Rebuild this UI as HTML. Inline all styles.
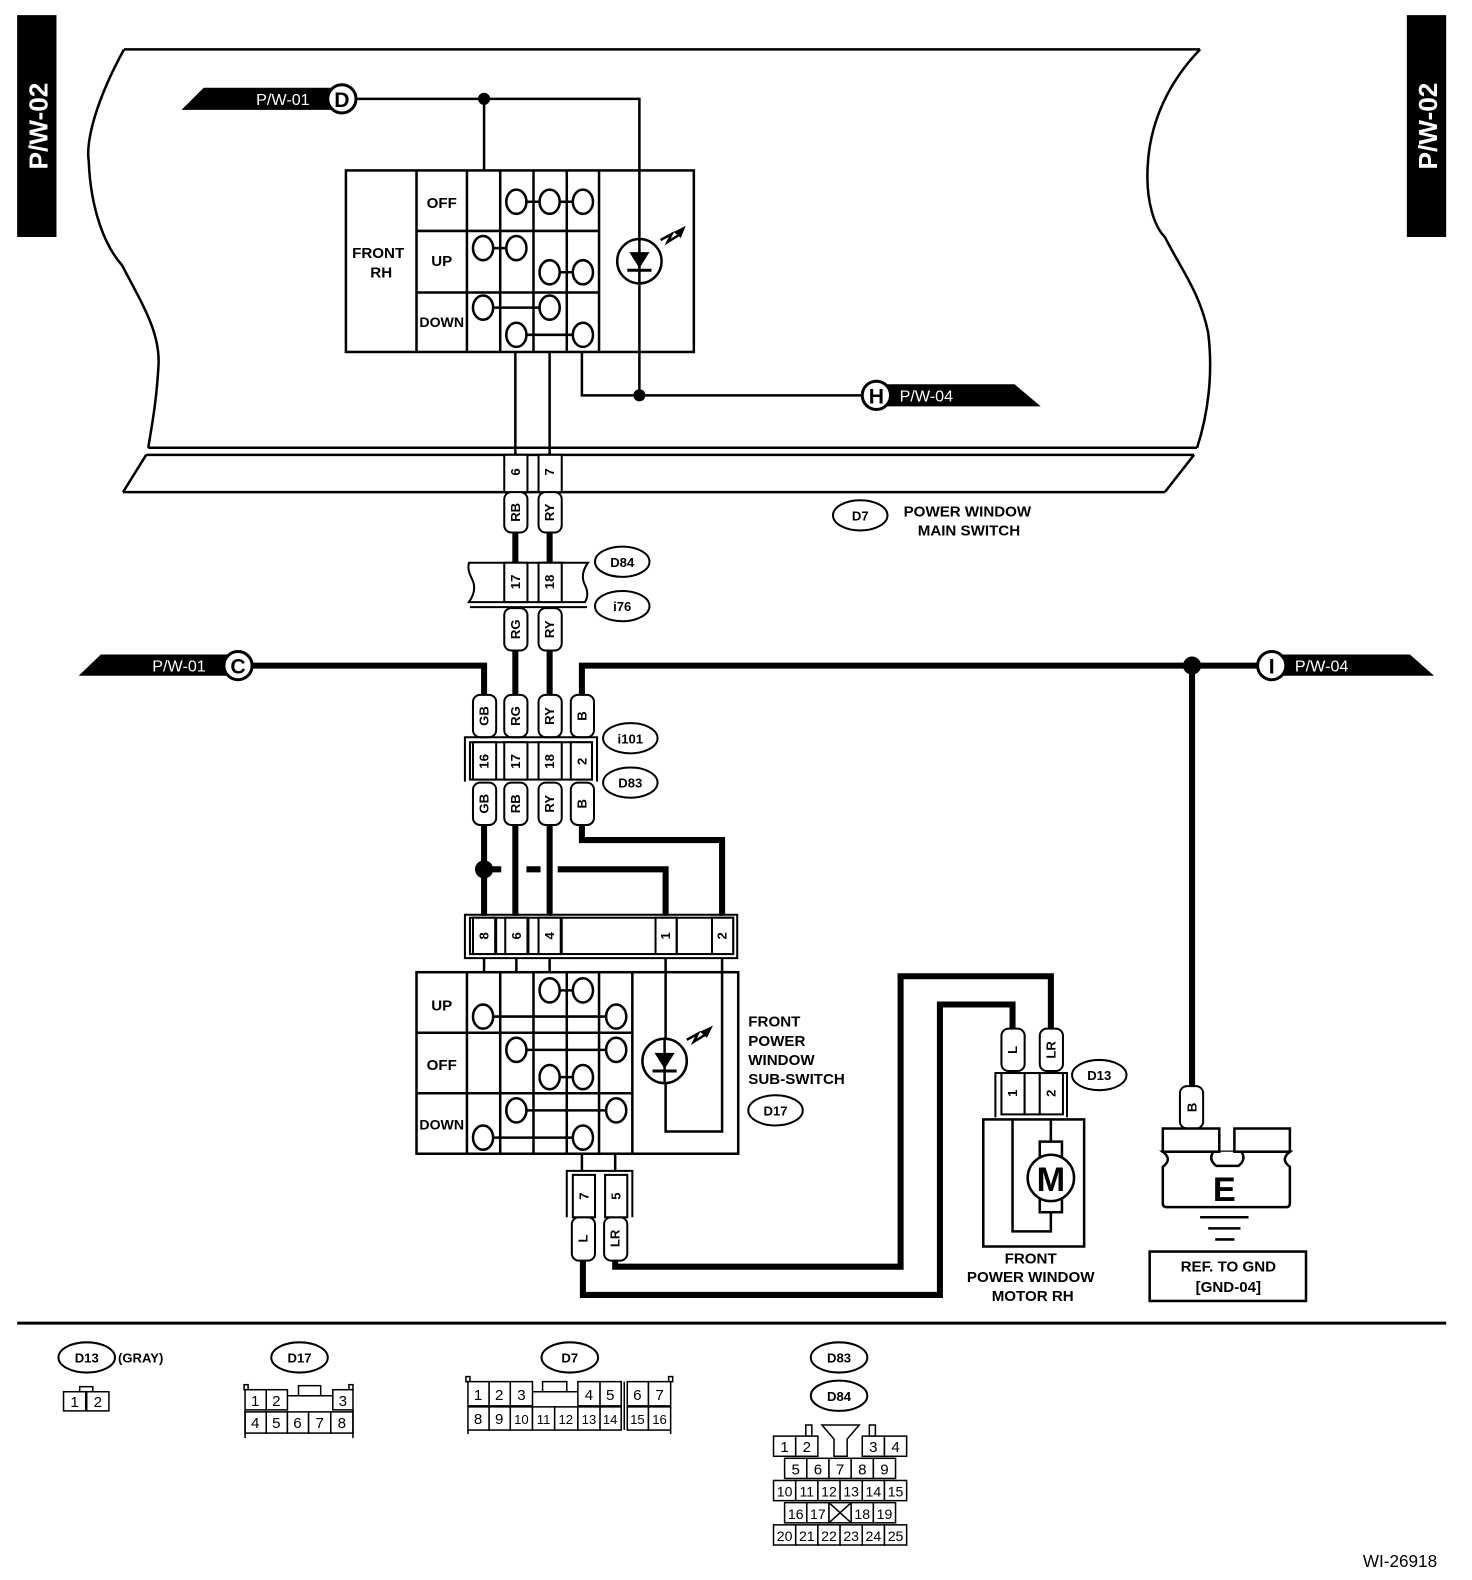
<!DOCTYPE html>
<html><head><meta charset="utf-8"><style>
html,body{margin:0;padding:0;background:#fff}
svg{display:block}
text{font-family:"Liberation Sans",Arial,sans-serif;font-weight:bold;fill:#000}
.t{font-size:15px}
.s{font-size:13px}
.r{font-size:13px;text-anchor:middle;dominant-baseline:central}
.n{font-family:"Liberation Sans",Arial,sans-serif;font-weight:normal;font-size:15px;text-anchor:middle}
.w{fill:#fff;font-weight:normal;font-size:16px}
</style></head><body>
<svg width="1472" height="1580" viewBox="0 0 1472 1580" xmlns="http://www.w3.org/2000/svg">
<g transform="scale(1.0085)">
<g fill="none" stroke="#000" stroke-width="2.5">
<path d="M123,49 L1190,49"/>
<path d="M123,49 C95,100 85,140 88,160 C90,210 105,245 121,263 C140,300 160,330 157,365 C155,400 150,425 147,444"/>
<path d="M1190,49 C1160,80 1140,120 1138,165 C1136,200 1145,225 1155,235 C1170,265 1190,290 1198,330 C1203,370 1198,410 1187,444"/>
<path d="M147,444 L1187,444 M145,451 L1184,451 M122,488 L1155,488"/>
<path d="M145,451 L122,488 M1184,451 L1155,488"/>
</g>
<rect x="17" y="15" width="39" height="220" fill="#000"/>
<text class="w" transform="translate(47,125) rotate(-90)" text-anchor="middle" style="font-size:26px;font-weight:bold">P/W-02</text>
<rect x="1395" y="15" width="39" height="220" fill="#000"/>
<text class="w" transform="translate(1425,125) rotate(-90)" text-anchor="middle" style="font-size:26px;font-weight:bold">P/W-02</text>

<polygon points="180,109 202,87 330,87 330,109" fill="#000"/>
<text class="w" x="254" y="104">P/W-01</text>
<circle cx="339" cy="98" r="14" fill="#fff" stroke="#000" stroke-width="3"/>
<text x="339" y="106" text-anchor="middle" style="font-size:21px">D</text>
<polygon points="880,381 1006,381 1032,403 880,403" fill="#000"/>
<text class="w" x="892" y="398">P/W-04</text>
<circle cx="869" cy="392" r="14" fill="#fff" stroke="#000" stroke-width="3"/>
<text x="869" y="400" text-anchor="middle" style="font-size:21px">H</text>

<g fill="none" stroke="#000" stroke-width="2.5">
<path d="M353,98 L634,98 L634,392 M480,98 L480,169 M577,349 L577,392 L855,392"/>
<path d="M511,349 L511,451 M545,349 L545,451"/>
<rect x="343" y="169" width="345" height="180"/>
<path d="M413,169V349 M463,169V349 M496,169V349 M529,169V349 M562,169V349 M594,169V349 M413,229H594 M413,290H594"/>
</g>
<circle cx="480" cy="98" r="6"/><circle cx="634" cy="392" r="6"/>
<text class="t" x="375" y="256" text-anchor="middle">FRONT</text>
<text class="t" x="378" y="275" text-anchor="middle">RH</text>
<text class="t" x="438" y="206" text-anchor="middle">OFF</text>
<text class="t" x="438" y="264" text-anchor="middle">UP</text>
<text class="s" x="438" y="324" text-anchor="middle" style="font-size:14px">DOWN</text>
<g fill="#fff" stroke="#000" stroke-width="2.5">
<path d="M512,200H578 M479,246H512 M545,270H578 M479,305H545 M512,332H578" fill="none"/>
<ellipse cx="512" cy="200" rx="10" ry="12"/><ellipse cx="545" cy="200" rx="10" ry="12"/><ellipse cx="578" cy="200" rx="10" ry="12"/>
<ellipse cx="479" cy="246" rx="10" ry="12"/><ellipse cx="512" cy="246" rx="10" ry="12"/>
<ellipse cx="545" cy="270" rx="10" ry="12"/><ellipse cx="578" cy="270" rx="10" ry="12"/>
<ellipse cx="479" cy="305" rx="10" ry="12"/><ellipse cx="545" cy="305" rx="10" ry="12"/>
<ellipse cx="512" cy="332" rx="10" ry="12"/><ellipse cx="578" cy="332" rx="10" ry="12"/>
<circle cx="634" cy="259" r="22"/>
</g>
<line x1="634" y1="237" x2="634" y2="281" stroke="#000" stroke-width="2.5"/>
<polygon points="624,250 644,250 634,266" fill="#000"/><line x1="622" y1="268" x2="646" y2="268" stroke="#000" stroke-width="3"/>
<path d="M655,238 L666,232 L662,240 L675,232" fill="none" stroke="#000" stroke-width="2.5"/><polygon points="680,224 668,230 675,236" fill="#000"/>

<g fill="#fff" stroke="#000" stroke-width="2">
<rect x="500" y="451" width="23" height="37"/><rect x="534" y="451" width="23" height="37"/>
</g>
<text class="r" transform="translate(511,468) rotate(-90)">6</text>
<text class="r" transform="translate(545,468) rotate(-90)">7</text>

<g fill="#fff" stroke="#000" stroke-width="2">
<rect x="500" y="488" width="23" height="40" rx="7"/><rect x="534" y="488" width="23" height="40" rx="7"/>
<rect x="500" y="603" width="23" height="42" rx="7"/><rect x="534" y="603" width="23" height="42" rx="7"/>
<rect x="469" y="689" width="23" height="42" rx="7"/><rect x="500" y="689" width="23" height="42" rx="7"/><rect x="534" y="689" width="23" height="42" rx="7"/><rect x="566" y="689" width="23" height="42" rx="7"/>
<rect x="469" y="776" width="23" height="42" rx="7"/><rect x="500" y="776" width="23" height="42" rx="7"/><rect x="534" y="776" width="23" height="42" rx="7"/><rect x="566" y="776" width="23" height="42" rx="7"/>
<rect x="567" y="1207" width="23" height="43" rx="7"/><rect x="599" y="1207" width="23" height="43" rx="7"/>
<rect x="993" y="1020" width="23" height="42" rx="7"/><rect x="1031" y="1020" width="23" height="42" rx="7"/>
<rect x="1170" y="1077" width="23" height="42" rx="7"/>
</g>
<text class="r" transform="translate(511,508) rotate(-90)">RB</text>
<text class="r" transform="translate(545,508) rotate(-90)">RY</text>
<text class="r" transform="translate(511,624) rotate(-90)">RG</text>
<text class="r" transform="translate(545,624) rotate(-90)">RY</text>
<text class="r" transform="translate(480,710) rotate(-90)">GB</text>
<text class="r" transform="translate(511,710) rotate(-90)">RG</text>
<text class="r" transform="translate(545,710) rotate(-90)">RY</text>
<text class="r" transform="translate(577,710) rotate(-90)">B</text>
<text class="r" transform="translate(480,797) rotate(-90)">GB</text>
<text class="r" transform="translate(511,797) rotate(-90)">RB</text>
<text class="r" transform="translate(545,797) rotate(-90)">RY</text>
<text class="r" transform="translate(577,797) rotate(-90)">B</text>
<text class="r" transform="translate(578,1228) rotate(-90)">L</text>
<text class="r" transform="translate(610,1228) rotate(-90)">LR</text>
<text class="r" transform="translate(1004,1041) rotate(-90)">L</text>
<text class="r" transform="translate(1042,1041) rotate(-90)">LR</text>
<text class="r" transform="translate(1182,1098) rotate(-90)">B</text>

<g fill="none" stroke="#000" stroke-width="6">
<path d="M511,528V558 M545,528V558 M511,645V689 M545,645V689"/>
<path d="M250,660H480V689"/>
<path d="M577,689V660H1248"/>
<path d="M1182,660V1077"/>
<path d="M480,818V908 M511,818V908 M545,818V908"/>
<path d="M577,818V833H716V908"/>
<path d="M480,862H497 M522,862H536 M553,862H660V908"/>
<path d="M610,1250V1256H893V968H1042V1020"/>
<path d="M578,1250V1284H932V996H1004V1020"/>
</g>
<circle cx="480" cy="862" r="9"/>
<circle cx="1182" cy="660" r="9"/>

<path d="M465,558 H583 C578,565 576,572 580,580 C584,588 582,594 580,597 H465 C470,590 472,582 468,574 C464,566 464,562 465,558 Z" fill="#fff" stroke="#000" stroke-width="2"/>
<path d="M466,602 H582" stroke="#000" stroke-width="2"/>
<g fill="#fff" stroke="#000" stroke-width="2"><rect x="500" y="558" width="23" height="39"/><rect x="534" y="558" width="23" height="39"/></g>
<text class="r" transform="translate(511,577) rotate(-90)">17</text>
<text class="r" transform="translate(545,577) rotate(-90)">18</text>
<g fill="#fff" stroke="#000" stroke-width="2">
<ellipse cx="617" cy="557" rx="27" ry="15"/><ellipse cx="617" cy="601" rx="27" ry="15"/>
<ellipse cx="625" cy="732" rx="27" ry="15"/><ellipse cx="625" cy="776" rx="27" ry="15"/>
<ellipse cx="853" cy="511" rx="27" ry="15"/>
<ellipse cx="769" cy="1101" rx="27" ry="15"/>
<ellipse cx="1090" cy="1066" rx="27" ry="15"/>
</g>
<text class="s" x="617" y="562" text-anchor="middle">D84</text>
<text class="s" x="617" y="606" text-anchor="middle">i76</text>
<text class="s" x="625" y="737" text-anchor="middle">i101</text>
<text class="s" x="625" y="781" text-anchor="middle">D83</text>
<text class="s" x="853" y="516" text-anchor="middle">D7</text>
<text class="s" x="769" y="1106" text-anchor="middle">D17</text>
<text class="s" x="1090" y="1071" text-anchor="middle">D13</text>
<text class="t" x="896" y="512">POWER WINDOW</text>
<text class="t" x="910" y="531">MAIN SWITCH</text>

<polygon points="78,670 100,649 225,649 225,670" fill="#000"/>
<text class="w" x="151" y="666">P/W-01</text>
<circle cx="236" cy="660" r="14" fill="#fff" stroke="#000" stroke-width="3"/>
<text x="236" y="668" text-anchor="middle" style="font-size:21px">C</text>
<polygon points="1270,649 1398,649 1422,670 1270,670" fill="#000"/>
<text class="w" x="1284" y="666">P/W-04</text>
<circle cx="1261" cy="660" r="14" fill="#fff" stroke="#000" stroke-width="3"/>
<text x="1261" y="668" text-anchor="middle" style="font-size:21px">I</text>

<path d="M461,775V731H592V775" fill="none" stroke="#000" stroke-width="2"/>
<g fill="#fff" stroke="#000" stroke-width="2">
<rect x="466" y="736" width="121" height="37"/>
<rect x="469" y="736" width="23" height="37"/><rect x="500" y="736" width="23" height="37"/><rect x="534" y="736" width="23" height="37"/><rect x="566" y="736" width="21" height="37"/>
</g>
<text class="r" transform="translate(480,755) rotate(-90)">16</text>
<text class="r" transform="translate(511,755) rotate(-90)">17</text>
<text class="r" transform="translate(545,755) rotate(-90)">18</text>
<text class="r" transform="translate(577,755) rotate(-90)">2</text>

<path d="M461,950V907H731V950Z" fill="none" stroke="#000" stroke-width="2"/>
<g fill="#fff" stroke="#000" stroke-width="2">
<rect x="466" y="910" width="261" height="36"/>
<rect x="469" y="910" width="22" height="36"/><rect x="501" y="910" width="22" height="36"/><rect x="534" y="910" width="22" height="36"/>
<rect x="650" y="910" width="21" height="36"/><rect x="706" y="910" width="21" height="36"/>
<path d="M492,910V946 M524,910V946 M557,910V946 M671,910V946"/>
</g>
<text class="r" transform="translate(480,928) rotate(-90)">8</text>
<text class="r" transform="translate(512,928) rotate(-90)">6</text>
<text class="r" transform="translate(545,928) rotate(-90)">4</text>
<text class="r" transform="translate(660,928) rotate(-90)">1</text>
<text class="r" transform="translate(716,928) rotate(-90)">2</text>

<g fill="none" stroke="#000" stroke-width="2.5">
<path d="M480,950V964 M512,950V964 M545,950V964"/>
<rect x="413" y="964" width="319" height="180"/>
<path d="M463,964V1144 M496,964V1144 M529,964V1144 M562,964V1144 M594,964V1144 M627,964V1144 M413,1024H627 M413,1084H627"/>
<path d="M660,950V1122H716V950"/>
<path d="M545,982H578 M479,1008H611 M512,1041H611 M545,1068H578 M512,1101H611 M479,1128H578"/>
<path d="M577,1144V1162 M610,1144V1162"/>
</g>
<text class="t" x="438" y="1002" text-anchor="middle">UP</text>
<text class="t" x="438" y="1061" text-anchor="middle">OFF</text>
<text class="s" x="438" y="1120" text-anchor="middle" style="font-size:14px">DOWN</text>
<g fill="#fff" stroke="#000" stroke-width="2.5">
<ellipse cx="545" cy="982" rx="10" ry="12"/><ellipse cx="578" cy="982" rx="10" ry="12"/>
<ellipse cx="479" cy="1008" rx="10" ry="12"/><ellipse cx="611" cy="1008" rx="10" ry="12"/>
<ellipse cx="512" cy="1041" rx="10" ry="12"/><ellipse cx="611" cy="1041" rx="10" ry="12"/>
<ellipse cx="545" cy="1068" rx="10" ry="12"/><ellipse cx="578" cy="1068" rx="10" ry="12"/>
<ellipse cx="512" cy="1101" rx="10" ry="12"/><ellipse cx="611" cy="1101" rx="10" ry="12"/>
<ellipse cx="479" cy="1128" rx="10" ry="12"/><ellipse cx="578" cy="1128" rx="10" ry="12"/>
<circle cx="659" cy="1052" r="22"/>
</g>
<line x1="659" y1="1030" x2="659" y2="1074" stroke="#000" stroke-width="2.5"/>
<polygon points="649,1044 669,1044 659,1060" fill="#000"/><line x1="647" y1="1062" x2="671" y2="1062" stroke="#000" stroke-width="3"/>
<path d="M681,1031 L692,1025 L688,1033 L701,1025" fill="none" stroke="#000" stroke-width="2.5"/><polygon points="707,1017 694,1023 701,1029" fill="#000"/>
<text class="t" x="742" y="1018">FRONT</text>
<text class="t" x="742" y="1037">POWER</text>
<text class="t" x="742" y="1056">WINDOW</text>
<text class="t" x="742" y="1075">SUB-SWITCH</text>

<path d="M562,1207V1161H627V1207" fill="none" stroke="#000" stroke-width="2"/>
<g fill="#fff" stroke="#000" stroke-width="2"><rect x="568" y="1165" width="22" height="42"/><rect x="600" y="1165" width="22" height="42"/></g>
<text class="r" transform="translate(579,1186) rotate(-90)">7</text>
<text class="r" transform="translate(611,1186) rotate(-90)">5</text>

<path d="M987,1108V1064H1058V1108" fill="none" stroke="#000" stroke-width="2"/>
<g fill="#fff" stroke="#000" stroke-width="2"><rect x="993" y="1064" width="23" height="41"/><rect x="1016" y="1064" width="15" height="41"/><rect x="1031" y="1064" width="23" height="41"/></g>
<text class="r" transform="translate(1004,1084) rotate(-90)">1</text>
<text class="r" transform="translate(1042,1084) rotate(-90)">2</text>
<g fill="none" stroke="#000" stroke-width="2.5">
<rect x="975" y="1110" width="100" height="126"/>
<path d="M1004,1110V1221H1042V1202 M1042,1110V1132"/>
<rect x="1031" y="1132" width="22" height="70" fill="#fff"/>
<circle cx="1042" cy="1168" r="23" fill="#fff"/>
</g>
<text x="1042" y="1181" text-anchor="middle" style="font-size:34px">M</text>
<text class="t" x="1022" y="1253" text-anchor="middle">FRONT</text>
<text class="t" x="1022" y="1271" text-anchor="middle">POWER WINDOW</text>
<text class="t" x="1024" y="1290" text-anchor="middle">MOTOR RH</text>

<!-- ground -->
<g fill="#fff" stroke="#000" stroke-width="2.5">
<path d="M1153,1142 Q1163,1149.5 1153,1157 V1193 Q1153,1197 1157,1197 H1275 Q1279,1197 1279,1193 V1157 Q1269,1149.5 1279,1142 Z"/>
<path d="M1203,1142 Q1198,1150 1206,1156 H1228 Q1236,1150 1231,1142" />
<rect x="1153" y="1119" width="56" height="23"/>
<rect x="1224" y="1119" width="55" height="23"/>
</g>
<text x="1214" y="1191" text-anchor="middle" style="font-size:34px">E</text>
<g stroke="#000" stroke-width="2.5"><line x1="1190" y1="1207" x2="1238" y2="1207"/><line x1="1198" y1="1218" x2="1230" y2="1218"/><line x1="1205" y1="1229" x2="1224" y2="1229"/></g>
<rect x="1140" y="1241" width="155" height="49" fill="none" stroke="#000" stroke-width="2.5"/>
<text class="t" x="1218" y="1261" text-anchor="middle">REF. TO GND</text>
<text class="t" x="1218" y="1281" text-anchor="middle">[GND-04]</text>

<line x1="17" y1="1312" x2="1434" y2="1312" stroke="#000" stroke-width="3"/>

<g fill="#fff" stroke="#000" stroke-width="2">
<ellipse cx="86" cy="1346" rx="28" ry="15"/><ellipse cx="297" cy="1346" rx="28" ry="15"/><ellipse cx="565" cy="1346" rx="28" ry="15"/>
<ellipse cx="832" cy="1346" rx="28" ry="15"/><ellipse cx="832" cy="1384" rx="28" ry="15"/>
</g>
<text class="s" x="86" y="1351" text-anchor="middle">D13</text>
<text class="s" x="117" y="1351">(GRAY)</text>
<text class="s" x="297" y="1351" text-anchor="middle">D17</text>
<text class="s" x="565" y="1351" text-anchor="middle">D7</text>
<text class="s" x="832" y="1351" text-anchor="middle">D83</text>
<text class="s" x="832" y="1389" text-anchor="middle">D84</text>

<g fill="#fff" stroke="#000" stroke-width="1.5">
<rect x="79" y="1375" width="13" height="5"/>
<rect x="63" y="1380" width="22" height="19"/><rect x="86" y="1380" width="22" height="19"/>
<rect x="242" y="1373" width="4" height="5"/><rect x="346" y="1373" width="4" height="5"/>
<rect x="296" y="1374" width="22" height="10"/>
<path d="M285,1384H330" fill="none"/>
<rect x="243" y="1378" width="21" height="20"/><rect x="264" y="1378" width="21" height="20"/><rect x="330" y="1378" width="20" height="20"/>
<rect x="243" y="1400" width="21" height="21"/><rect x="264" y="1400" width="21" height="21"/><rect x="285" y="1400" width="21" height="21"/><rect x="306" y="1400" width="22" height="21"/><rect x="328" y="1400" width="22" height="21"/>
<path d="M243,1398V1426 M350,1398V1426" fill="none"/>
<rect x="462" y="1365" width="4" height="5"/><rect x="663" y="1365" width="4" height="5"/>
<rect x="538" y="1370" width="24" height="10"/>
<path d="M528,1380H573" fill="none"/>
<rect x="464" y="1370" width="21" height="24"/><rect x="485" y="1370" width="21" height="24"/><rect x="506" y="1370" width="22" height="24"/>
<rect x="573" y="1370" width="22" height="24"/><rect x="595" y="1370" width="21" height="24"/>
<rect x="622" y="1370" width="21" height="24"/><rect x="643" y="1370" width="22" height="24"/>
<rect x="464" y="1395" width="21" height="23"/><rect x="485" y="1395" width="21" height="23"/><rect x="506" y="1395" width="22" height="23"/><rect x="528" y="1395" width="22" height="23"/><rect x="550" y="1395" width="23" height="23"/><rect x="573" y="1395" width="22" height="23"/><rect x="595" y="1395" width="21" height="23"/>
<rect x="622" y="1395" width="21" height="23"/><rect x="643" y="1395" width="22" height="23"/>
<path d="M616,1370V1418 M619,1370V1418 M464,1418V1422 M665,1418V1422" fill="none"/>
<rect x="799" y="1413" width="6" height="11"/><rect x="862" y="1413" width="6" height="11"/>
<path d="M815,1413H852L840,1427V1444H827V1427Z"/>
<rect x="767" y="1424" width="22" height="20"/><rect x="789" y="1424" width="22" height="20"/><rect x="855" y="1424" width="22" height="20"/><rect x="877" y="1424" width="22" height="20"/>
<rect x="778" y="1446" width="22" height="20"/><rect x="800" y="1446" width="22" height="20"/><rect x="822" y="1446" width="22" height="20"/><rect x="844" y="1446" width="22" height="20"/><rect x="866" y="1446" width="22" height="20"/>
<rect x="767" y="1468" width="22" height="20"/><rect x="789" y="1468" width="22" height="20"/><rect x="811" y="1468" width="22" height="20"/><rect x="833" y="1468" width="22" height="20"/><rect x="855" y="1468" width="22" height="20"/><rect x="877" y="1468" width="22" height="20"/>
<rect x="778" y="1490" width="22" height="20"/><rect x="800" y="1490" width="22" height="20"/><rect x="822" y="1490" width="22" height="20"/><rect x="844" y="1490" width="22" height="20"/><rect x="866" y="1490" width="22" height="20"/>
<path d="M822,1490L844,1510M844,1490L822,1510" fill="none"/>
<rect x="767" y="1512" width="22" height="20"/><rect x="789" y="1512" width="22" height="20"/><rect x="811" y="1512" width="22" height="20"/><rect x="833" y="1512" width="22" height="20"/><rect x="855" y="1512" width="22" height="20"/><rect x="877" y="1512" width="22" height="20"/>
</g>
<g>
<text class="n" x="74" y="1395">1</text><text class="n" x="97" y="1395">2</text>
<text class="n" x="253" y="1394">1</text><text class="n" x="274" y="1394">2</text><text class="n" x="340" y="1394">3</text>
<text class="n" x="253" y="1416">4</text><text class="n" x="274" y="1416">5</text><text class="n" x="295" y="1416">6</text><text class="n" x="317" y="1416">7</text><text class="n" x="339" y="1416">8</text>
<text class="n" x="474" y="1388">1</text><text class="n" x="495" y="1388">2</text><text class="n" x="517" y="1388">3</text><text class="n" x="584" y="1388">4</text><text class="n" x="605" y="1388">5</text><text class="n" x="632" y="1388">6</text><text class="n" x="654" y="1388">7</text>
<text class="n" x="474" y="1412">8</text><text class="n" x="495" y="1412">9</text><text class="n" x="517" y="1412" style="font-size:13px">10</text><text class="n" x="539" y="1412" style="font-size:13px">11</text><text class="n" x="561" y="1412" style="font-size:13px">12</text><text class="n" x="584" y="1412" style="font-size:13px">13</text><text class="n" x="605" y="1412" style="font-size:13px">14</text><text class="n" x="632" y="1412" style="font-size:13px">15</text><text class="n" x="654" y="1412" style="font-size:13px">16</text>
<text class="n" x="778" y="1440">1</text><text class="n" x="800" y="1440">2</text><text class="n" x="866" y="1440">3</text><text class="n" x="888" y="1440">4</text>
<text class="n" x="789" y="1462">5</text><text class="n" x="811" y="1462">6</text><text class="n" x="833" y="1462">7</text><text class="n" x="855" y="1462">8</text><text class="n" x="877" y="1462">9</text>
<text class="n" x="778" y="1484" style="font-size:14px">10</text><text class="n" x="800" y="1484" style="font-size:14px">11</text><text class="n" x="822" y="1484" style="font-size:14px">12</text><text class="n" x="844" y="1484" style="font-size:14px">13</text><text class="n" x="866" y="1484" style="font-size:14px">14</text><text class="n" x="888" y="1484" style="font-size:14px">15</text>
<text class="n" x="789" y="1506" style="font-size:14px">16</text><text class="n" x="811" y="1506" style="font-size:14px">17</text><text class="n" x="855" y="1506" style="font-size:14px">18</text><text class="n" x="877" y="1506" style="font-size:14px">19</text>
<text class="n" x="778" y="1528" style="font-size:14px">20</text><text class="n" x="800" y="1528" style="font-size:14px">21</text><text class="n" x="822" y="1528" style="font-size:14px">22</text><text class="n" x="844" y="1528" style="font-size:14px">23</text><text class="n" x="866" y="1528" style="font-size:14px">24</text><text class="n" x="888" y="1528" style="font-size:14px">25</text>
</g>
<text x="1425" y="1554" text-anchor="end" style="font-weight:normal;font-size:17px">WI-26918</text>
</g>
</svg>
</body></html>
